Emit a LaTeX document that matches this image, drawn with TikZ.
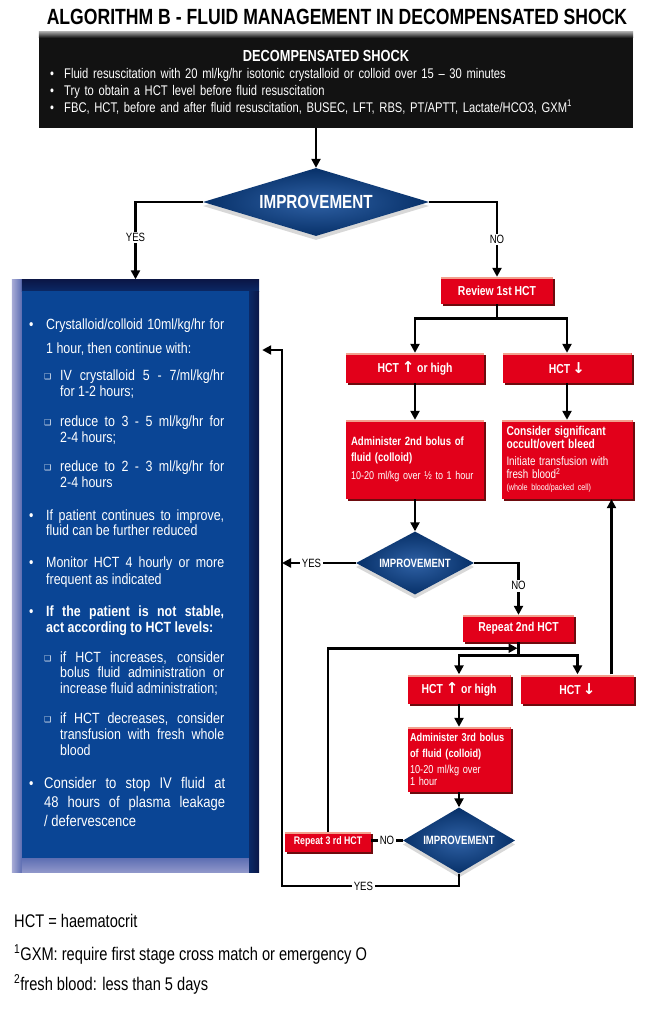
\documentclass[tikz,border=0pt]{standalone}
\usepackage{fontspec}
\setmainfont{Liberation Sans}[FakeStretch=0.8]
\newfontfamily\carefont{Liberation Sans}[FakeStretch=0.84]
\newfontfamily\symfont{DejaVu Sans}
\usetikzlibrary{arrows.meta,positioning,shapes.geometric,shadows,calc}
\definecolor{navy}{HTML}{0B1646}
\definecolor{dblue}{HTML}{0A4595}
\definecolor{lav}{HTML}{A9ACD6}
\definecolor{lowblue}{HTML}{5C6DB2}
\definecolor{hred}{HTML}{E2001A}
\definecolor{darkred}{HTML}{6E0B0E}
\definecolor{pinkedge}{HTML}{F2A08E}
\definecolor{nearblack}{HTML}{121212}
\newcommand{\upar}{{\symfont\bfseries\fontsize{15}{15}\selectfont ↑}}
\newcommand{\dnar}{{\symfont\bfseries\fontsize{15}{15}\selectfont ↓}}
\newcommand{\blt}[1][14pt]{\makebox[#1][l]{\textbullet}}
\newcommand{\bitem}[3]{\makebox[#1][l]{\textbullet}\parbox[t]{#2}{#3}}
\newcommand{\sitem}[2]{\makebox[16pt][l]{\raisebox{1pt}{\symfont\fontsize{8}{8}\selectfont ❑}}\parbox[t]{#1}{#2}}
\tikzset{
  shockbox/.style={fill=nearblack, minimum width=594pt, minimum height=96pt, inner sep=0pt},
  carebox/.style={fill=navy, minimum width=247pt, minimum height=593pt, inner sep=0pt},
  redbox/.style={fill=hred, text=white, inner sep=0pt, align=center,
                 font=\bfseries\fontsize{13}{13}\selectfont,
                 general shadow={fill=darkred, shadow xshift=2pt, shadow yshift=-2pt},
                 path picture={\fill[pinkedge] (path picture bounding box.north west)
                   rectangle ([yshift=-2pt]path picture bounding box.north east);}},
  redtext/.style={redbox, align=left, inner xsep=6pt, font=\fontsize{11}{12.5}\selectfont},
  decision/.style={diamond, aspect=#1, inner sep=0pt, text=white,
                   inner color=dblue!85!white, outer color=dblue!70!black,
                   drop shadow={shadow xshift=0pt, shadow yshift=-4pt, opacity=0.3}},
  flow/.style={-{Triangle[length=9pt,width=9pt]}, line width=2.6pt},
  wire/.style={line width=2.6pt},
  answer/.style={fill=white, inner sep=1.5pt, font=\fontsize{12}{12}\selectfont},
  careitem/.style={anchor=base west, inner sep=0pt, text=white,
                   font=\carefont\fontsize{14.8}{#1}\selectfont},
  note/.style={anchor=base west, inner sep=0pt, font=\fontsize{18.3}{18.3}\selectfont}
}

\begin{document}
\begin{tikzpicture}[x=1pt, y=-1pt]
  \fill[white] (0,0) rectangle (648,1012);
  \useasboundingbox (0,0) rectangle (648,1012);

  \node[anchor=base, font=\bfseries\fontsize{22}{22}\selectfont] (title) at (337,24)
       {ALGORITHM B - FLUID MANAGEMENT IN DECOMPENSATED SHOCK};

  % decompensated shock box
  \node[shockbox] (shock) at (336,80) {};
  \shade[top color=gray!75, bottom color=nearblack] (shock.north west) rectangle ([shift={(0,6)}]shock.north east);
  \node[anchor=base, text=white, font=\bfseries\fontsize{16}{16}\selectfont] (shockhead) at (326,61)
       {DECOMPENSATED SHOCK};
  \node[anchor=base west, inner sep=0pt, text=white, text width=570pt, align=left,
        font=\fontsize{14}{17}\selectfont] (shocklist) at (50,78)
       {\blt[14pt]Fluid resuscitation with 20 ml/kg/hr isotonic crystalloid or colloid over 15 -- 30 minutes\\
        \blt[14pt]Try to obtain a HCT level before fluid resuscitation\\
        \blt[14pt]FBC, HCT, before and after fluid resuscitation, BUSEC, LFT, RBS, PT/APTT, Lactate/HCO3, GXM\textsuperscript{1}};

  \node[decision=3.3, minimum width=226pt, minimum height=68pt,
        font=\bfseries\fontsize{19}{19}\selectfont] (d1) at (316,202) {IMPROVEMENT};

  % stable branch
  \node[carebox] (care) at (135.5,576) {};
  \shade[left color=lav, right color=lowblue] (care.north west) rectangle ([shift={(10,0)}]care.south west);
  \shade[top color=navy, bottom color=navy!60!dblue] ([shift={(10,0)}]care.north west) rectangle ([shift={(0,12)}]care.north east);
  \shade[top color=lowblue, bottom color=lav!70!lowblue] ([shift={(10,-15)}]care.south west) rectangle ([shift={(-10,0)}]care.south east);
  \shade[left color=navy!60!dblue, right color=navy] ([shift={(-10,12)}]care.north east) rectangle (care.south east);
  \fill[dblue] ([shift={(10,12)}]care.north west) rectangle ([shift={(-10,-15)}]care.south east);

  \node[careitem=24] (c1) at (29,329)
       {\bitem{17pt}{178pt}{Crystalloid/colloid 10ml/kg/hr for\linebreak 1 hour, then continue with:}};
  \node[careitem=16] (c2) at (44,380)
       {\sitem{164pt}{IV crystalloid 5 - 7/ml/kg/hr\linebreak for 1-2 hours;}};
  \node[careitem=16] (c3) at (44,426)
       {\sitem{164pt}{reduce to 3 - 5 ml/kg/hr for\linebreak 2-4 hours;}};
  \node[careitem=16] (c4) at (44,471)
       {\sitem{164pt}{reduce to 2 - 3 ml/kg/hr for\linebreak 2-4 hours}};
  \node[careitem=15] (c5) at (29,520)
       {\bitem{17pt}{178pt}{If patient continues to improve,\linebreak fluid can be further reduced}};
  \node[careitem=17] (c6) at (29,567)
       {\bitem{17pt}{178pt}{Monitor HCT 4 hourly or more\linebreak frequent as indicated}};
  \node[careitem=16] (c7) at (29,616)
       {\bitem{17pt}{178pt}{\bfseries If the patient is not stable,\linebreak act according to HCT levels:}};
  \node[careitem=15.5] (c8) at (44,662)
       {\sitem{164pt}{if HCT increases, consider\linebreak bolus fluid administration or\linebreak increase fluid administration;}};
  \node[careitem=16] (c9) at (44,723)
       {\sitem{164pt}{if HCT decreases, consider\linebreak transfusion with fresh whole\linebreak blood}};
  \node[careitem=19] (c10) at (29,788)
       {\bitem{15pt}{181pt}{\fontsize{15.5}{19}\selectfont Consider to stop IV fluid at\linebreak 48 hours of plasma leakage\linebreak / defervescence}};

  % unstable branch
  \node[redbox, minimum width=112pt, minimum height=27pt] (rev1) at (497,290.5) {Review 1st HCT};
  \node[redbox, minimum width=138pt, minimum height=30pt] (hct1up) at (415,368) {HCT \upar\ or high};
  \node[redbox, minimum width=129pt, minimum height=30pt] (hct1dn) at (567,368) {HCT\,\dnar};
  \node[redtext, text width=128pt, inner xsep=5pt, minimum height=79pt] (admin2) at (415,459.5)
       {{\bfseries\fontsize{12}{16}\selectfont Administer 2nd bolus of\\fluid (colloid)\par}
        \vspace{6pt}{\fontsize{11.3}{12.5}\selectfont 10-20 ml/kg over ½ to 1 hour\par}};
  \node[redtext, text width=121pt, inner xsep=5pt, minimum height=79pt] (bleed) at (567,459.5)
       {{\bfseries\fontsize{12.8}{12.5}\selectfont Consider significant\\occult/overt bleed\par}
        \vspace{5pt}{\fontsize{12.3}{12.5}\selectfont Initiate transfusion with\\fresh blood\textsuperscript{2}\par}
        {\fontsize{9}{12}\selectfont (whole blood/packed cell)\par}};
  \node[decision=1.9, minimum width=118pt, minimum height=63pt,
        font=\bfseries\fontsize{12}{12}\selectfont] (d2) at (415,563) {IMPROVEMENT};
  \node[redbox, minimum width=111pt, minimum height=27pt] (rep2) at (518.5,628.5) {Repeat 2nd HCT};
  \node[redbox, minimum width=103pt, minimum height=29pt] (hct2up) at (459,689) {HCT \upar\ or high};
  \node[redbox, minimum width=113pt, minimum height=29pt] (hct2dn) at (577.5,689) {HCT\,\dnar};
  \node[redtext, text width=98pt, inner xsep=2.5pt, minimum height=65pt] (admin3) at (459,759.5)
       {{\bfseries\fontsize{11.5}{16}\selectfont Administer 3rd bolus\\of fluid (colloid)\par}
        \vspace{3pt}{\fontsize{11.5}{12.5}\selectfont 10-20 ml/kg over\\1 hour\par}};
  \node[decision=1.7, minimum width=112pt, minimum height=66pt,
        font=\bfseries\fontsize{12}{12}\selectfont] (d3) at (459,840.5) {IMPROVEMENT};
  \node[redbox, minimum width=86pt, minimum height=20pt,
        font=\bfseries\fontsize{11}{11}\selectfont] (rep3) at (328,842) {Repeat 3 rd HCT};

  \coordinate (rail) at (282,350);
  \coordinate (railbot) at (282,886);

  % connectors
  \draw[flow] (shock.south -| d1.north) -- (d1.north);
  \draw[flow] (d1.west) -| node[answer, pos=0.73]{YES} (care.north);
  \draw[flow] (d1.east) -| node[answer, pos=0.75]{NO} (rev1.north);
  \draw[flow] (rev1.south) -- ++(0,14) -| (hct1up.north);
  \draw[flow] (rev1.south) -- ++(0,14) -| (hct1dn.north);
  \draw[flow] (hct1up) -- (admin2);
  \draw[flow] (hct1dn) -- (bleed);
  \draw[flow] (admin2) -- (d2);
  \draw[flow] (d2.west) -- node[answer, pos=0.6]{YES} (d2.west -| rail);
  \draw[flow] (d2.east) -| node[answer, pos=0.72]{NO} (rep2.north);
  \draw[flow] (rep2.south) -- ++(0,13) -| (hct2up.north);
  \draw[flow] (rep2.south) -- ++(0,13) -| (hct2dn.north);
  \draw[flow] ([xshift=34pt]hct2dn.north) -- ([xshift=34pt]hct2dn.north |- bleed.south);
  \draw[flow] (hct2up) -- (admin3);
  \draw[flow] (admin3) -- (d3);
  \draw[wire] (d3.west) -- node[answer]{NO} (d3.west -| rep3.east);
  \draw[flow] (rep3.north) |- ([shift={(-1,6)}]rep2.south);
  \draw[flow] (d3.south) |- node[answer, pos=0.77]{YES} (railbot) -- (rail) -- ([xshift=3pt]care.east |- rail);

  % footnotes
  \node[note] (note1) at (14,927) {HCT = haematocrit};
  \node[note] (note2) at (14,960) {\textsuperscript{1}GXM: require first stage cross match or emergency O};
  \node[note] (note3) at (14,990) {\textsuperscript{2}fresh blood: less than 5 days};
\end{tikzpicture}
\end{document}
